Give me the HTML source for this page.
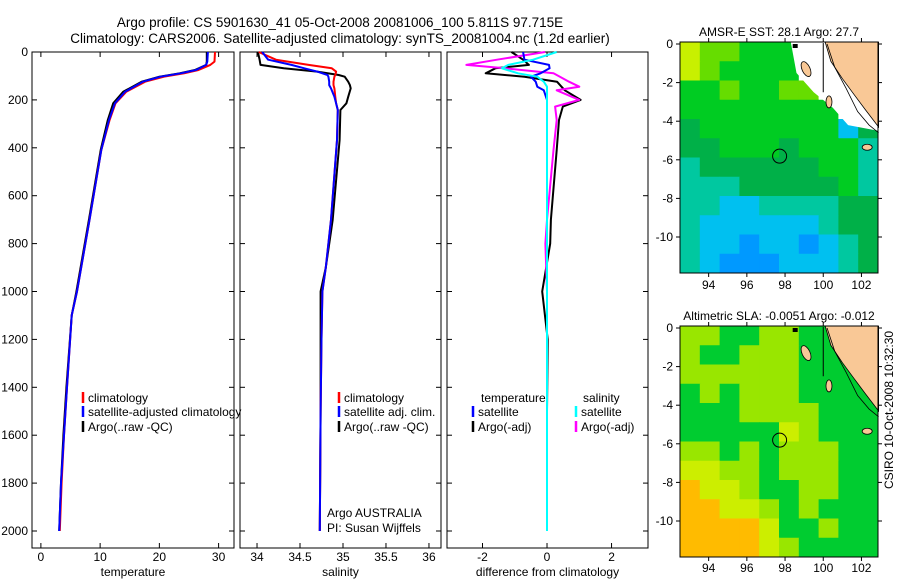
<!DOCTYPE html>
<html><head><meta charset="utf-8">
<style>
html,body{margin:0;padding:0;background:#fff;}
svg{display:block;font-family:"Liberation Sans",Arial,sans-serif;}
text{font-size:12px;fill:#000;}
</style></head>
<body>
<svg id="chart" width="900" height="580" viewBox="0 0 900 580" xmlns="http://www.w3.org/2000/svg">
<text x="340" y="27" text-anchor="middle" style="font-size:13.5px">Argo profile: CS 5901630_41 05-Oct-2008 20081006_100 5.811S 97.715E</text>
<text x="340" y="43" text-anchor="middle" style="font-size:13.5px">Climatology: CARS2006. Satellite-adjusted climatology: synTS_20081004.nc (1.2d earlier)</text>
<g id="plots"></g>
<text transform="translate(893,410) rotate(-90)" text-anchor="middle">CSIRO 10-Oct-2008 10:32:30</text>
</svg>
<script>
// ---- profile data ----
const depthT = [0, 40, 54, 75, 89, 103, 124, 166, 214, 284, 409, 701, 1000, 1100, 1400, 1600, 1800, 2000];
const tempClim = [29.4, 29.3, 28.6, 26.6, 24.2, 20.8, 17.6, 14.4, 12.6, 11.6, 10.2, 8.2, 6.1, 5.2, 4.4, 3.9, 3.5, 3.2];
const tempSat  = [28.2, 28.1, 27.9, 26.2, 23.6, 20.2, 17.2, 14.2, 12.5, 11.5, 10.2, 8.2, 6.1, 5.2, 4.4, 3.9, 3.4, 3.1];
const tempArgo = [28.0, 28.0, 27.9, 26.0, 23.4, 20.0, 17.0, 13.9, 12.2, 11.3, 10.1, 8.1, 6.0, 5.2, 4.3, 3.8, 3.4, 3.1];
const depthS = [0, 32, 54, 68, 82, 96, 103, 124, 138, 152, 187, 214, 242, 368, 700, 900, 1000, 1200, 1500, 2000];
const salClim = [34.02, 34.22, 34.60, 34.87, 34.92, 34.91, 34.90, 34.89, 34.89, 34.90, 34.91, 34.92, 34.94, 34.93, 34.86, 34.80, 34.76, 34.75, 34.74, 34.73];
const salSat  = [34.06, 34.13, 34.40, 34.55, 34.70, 34.82, 34.83, 34.84, 34.84, 34.86, 34.90, 34.92, 34.94, 34.93, 34.86, 34.80, 34.76, 34.75, 34.74, 34.73];
const salArgo = [34.01, 34.03, 34.04, 34.31, 34.70, 34.95, 35.02, 35.06, 35.08, 35.09, 35.06, 35.04, 34.97, 34.96, 34.88, 34.80, 34.74, 34.74, 34.74, 34.73];
const depthD = [0, 32, 54, 68, 89, 103, 124, 145, 160, 200, 228, 284, 409, 700, 800, 1000, 1200, 1500, 2000];
const diffTSat  = [-0.74, -0.70, 0.06, 0.08, -0.20, -0.50, -0.35, -0.30, -0.10, 0.00, 0.00, 0.00, 0.00, 0.00, 0.00, 0.00, 0.00, 0.00, 0.00];
const diffTArgo = [-1.10, -0.74, -0.56, -1.60, -1.90, -0.70, 0.31, 0.45, 0.55, 1.04, 0.49, 0.37, 0.30, 0.12, 0.10, -0.15, 0.02, 0.0, 0.0];
const diffSSat  = [0.30, -0.43, -1.20, -1.40, -0.90, -0.30, -0.10, 0.00, 0.00, 0.00, 0.00, 0.00, 0.00, 0.00, 0.00, 0.00, 0.00, 0.00, 0.00];
const diffSArgo = [-0.06, -1.55, -2.50, -1.30, 0.20, 0.40, 0.68, 1.00, 0.30, 1.00, 0.25, 0.30, 0.20, 0.00, -0.05, 0.00, 0.00, 0.00, 0.00];
const depthTicks = [0, 200, 400, 600, 800, 1000, 1200, 1400, 1600, 1800, 2000];
const tempTicks = [0, 10, 20, 30];
const salTicks = [34, 34.5, 35, 35.5, 36];
const salTickLabels = ["34", "34.5", "35", "35.5", "36"];
const diffTicks = [-2, 0, 2];
// ---- map data ----
const mapLatTicks = [0, -2, -4, -6, -8, -10];
const mapLonTicks = [94, 96, 98, 100, 102];
const sstGrid = ["YLLGGGWWPP","YLGGGGWWPP","GGLGGLLWWP","GGGGGGGGWP","DGGGGGGGCD","DDGGGDGGGT","TDDDDDDGGT","TTTDDDDDGT","TTCCTTTTDD","TCCCCCCTDD","TCCBCCBCTD","TCBBBCCCTD"];
const slaGrid = ["LLDDLLDDPP","LDDLLLDDDP","LLLLLLDDDP","DLDLLLDDDD","DDDLLLLDDD","DDDDDYLDDD","LLDLDLLLDD","YYLLDLLLDD","OYYLDDLLDD","OOYYLDLDDD","OOOOYDDLDD","OOOOYLDDDD"];

const NS = "http://www.w3.org/2000/svg";
const root = document.getElementById('plots');
function mk(tag, attrs, parent) {
  const e = document.createElementNS(NS, tag);
  for (const k in attrs) e.setAttribute(k, attrs[k]);
  (parent || root).appendChild(e);
  return e;
}
function txt(x, y, s, anchor, parent) {
  const t = mk('text', {x: x, y: y, 'text-anchor': anchor || 'middle'}, parent);
  t.textContent = s;
  return t;
}
const PT = 52, PB = 548;
const yD = d => 52 + d * 0.2395;

function panel(name, x0, x1, xmin, xmax, ticks, tickLabels, xtitle, showY) {
  const g = mk('g', {});
  
  
  const sx = v => x0 + (v - xmin) / (xmax - xmin) * (x1 - x0);
  const frame = mk('rect', {x: x0, y: PT, width: x1 - x0, height: PB - PT, fill: 'none', stroke: '#000', 'stroke-width': 1}, g);
  
  
  ticks.forEach((v, i) => {
    const x = sx(v);
    mk('line', {x1: x, x2: x, y1: PT, y2: PT + 5, stroke: '#000'}, g);
    mk('line', {x1: x, x2: x, y1: PB, y2: PB - 5, stroke: '#000'}, g);
    const t = txt(x, 561, tickLabels[i], 'middle', g);
    
    
  });
  depthTicks.forEach(d => {
    const y = yD(d);
    mk('line', {x1: x0, x2: x0 + 5, y1: y, y2: y, stroke: '#000'}, g);
    mk('line', {x1: x1, x2: x1 - 5, y1: y, y2: y, stroke: '#000'}, g);
    if (showY) {
      const t = txt(28, y + 4, String(d), 'end', g);
      
      
    }
  });
  const tt = txt((x0 + x1) / 2, 576, xtitle, 'middle', g);
  
  
  return {g: g, sx: sx};
}
function line(p, depths, vals, color, name) {
  const pts = depths.map((d, i) => p.sx(vals[i]).toFixed(1) + ',' + yD(d).toFixed(1)).join(' ');
  const l = mk('polyline', {points: pts, fill: 'none', stroke: color, 'stroke-width': 2, 'stroke-linejoin': 'round'}, p.g);
  
  
}
function legend(p, x, y, color, label, name) {
  mk('line', {x1: x, x2: x, y1: y - 10, y2: y + 1, stroke: color, 'stroke-width': 2.5}, p.g);
  const t = txt(x + 5, y, label, 'start', p.g);
  
  
}

const p1 = panel('temperature-panel', 32, 234, -1.5, 32.6, tempTicks, tempTicks.map(String), 'temperature', true);
line(p1, depthT, tempArgo, '#000', 'temp-argo-line');
line(p1, depthT, tempClim, '#f00', 'temp-climatology-line');
line(p1, depthT, tempSat, '#00f', 'temp-satellite-line');
legend(p1, 83, 402, '#f00', 'climatology', 'legend-climatology');
legend(p1, 83, 416, '#00f', 'satellite-adjusted climatology', 'legend-satellite');
legend(p1, 83, 431, '#000', 'Argo(..raw -QC)', 'legend-argo');

const p2 = panel('salinity-panel', 240, 441, 33.802, 36.14, salTicks, salTickLabels, 'salinity', false);
line(p2, depthS, salArgo, '#000', 'sal-argo-line');
line(p2, depthS, salClim, '#f00', 'sal-climatology-line');
line(p2, depthS, salSat, '#00f', 'sal-satellite-line');
legend(p2, 339, 402, '#f00', 'climatology', 'legend-climatology');
legend(p2, 339, 416, '#00f', 'satellite adj. clim.', 'legend-satellite');
legend(p2, 339, 431, '#000', 'Argo(..raw -QC)', 'legend-argo');
let a1 = txt(327, 517, 'Argo AUSTRALIA', 'start', p2.g);
 
let a2 = txt(327, 532, 'PI: Susan Wijffels', 'start', p2.g);
 

const p3 = panel('difference-panel', 447, 648, -3.1, 3.13, diffTicks, diffTicks.map(String), 'difference from climatology', false);
line(p3, depthD, diffTArgo, '#000', 'diff-temp-argo-line');
line(p3, depthD, diffSArgo, '#f0f', 'diff-sal-argo-line');
line(p3, depthD, diffTSat, '#00f', 'diff-temp-satellite-line');
line(p3, depthD, diffSSat, '#0ff', 'diff-sal-satellite-line');
let lt = txt(481, 402, 'temperature', 'start', p3.g);
 
let ls = txt(583, 402, 'salinity', 'start', p3.g);
 
legend(p3, 473, 416, '#00f', 'satellite', 'legend-temp-satellite');
legend(p3, 473, 431, '#000', 'Argo(-adj)', 'legend-temp-argo');
legend(p3, 576, 416, '#0ff', 'satellite', 'legend-sal-satellite');
legend(p3, 576, 431, '#f0f', 'Argo(-adj)', 'legend-sal-argo');

// ---- maps ----
const sstColors = {Y:'#c8f000', L:'#66dd00', G:'#00cc22', D:'#00b048', T:'#00c8a0', C:'#00c0f0', B:'#0099ff', W:'#ffffff', P:'#f9c896'};
const slaColors = {Y:'#ccee00', L:'#99e600', G:'#33dd00', D:'#00cc30', O:'#ffbb00', P:'#f9c896'};
function map(name, top, grid, colors, title, labelY) {
  const x0 = 680, x1 = 878, y1 = top + 231;
  const g = mk('g', {});
  
  
  const X = lon => x0 + (lon - 92.5) * 19.1;
  const Y = lat => top + 2 - lat * 19.3;
  const cw = (x1 - x0) / 10, ch = (y1 - top) / 12;
  grid.forEach((row, r) => {
    for (let c = 0; c < row.length; c++) {
      mk('rect', {x: x0 + c * cw, y: top + r * ch, width: cw + 0.5, height: ch + 0.5, fill: colors[row[c]]}, g);
    }
  });
  const poly = (pts, attrs) => mk('polygon', Object.assign({points: pts.map(p => X(p[0]).toFixed(1) + ',' + Y(p[1]).toFixed(1)).join(' ')}, attrs), g);
  if (colors.W) poly([[98.3,0.1],[98.6,-1.5],[99.5,-2.5],[100.5,-3.3],[101.3,-4.2],[102.9,-4.5],[102.9,0.1]], {fill: '#fff'});
  poly([[100.1,0.1],[100.4,-0.9],[101,-1.8],[101.6,-2.6],[102.2,-3.4],[102.9,-4.3],[102.9,0.1]], {fill: '#f9c896', stroke: '#000', 'stroke-width': 0.8});
  mk('polyline', {points: [[100.2,0],[100.6,-1.2],[101.2,-2.3],[101.8,-3.5],[102.4,-4.2],[102.9,-4.6]].map(p => X(p[0]) + ',' + Y(p[1])).join(' '), fill: 'none', stroke: '#000', 'stroke-width': 0.8}, g);
  mk('line', {x1: X(100), x2: X(100), y1: Y(0.05), y2: Y(-2.5), stroke: '#000', 'stroke-width': 1}, g);
  mk('ellipse', {cx: X(99.1), cy: Y(-1.3), rx: 4, ry: 8, fill: '#f9c896', stroke: '#000', 'stroke-width': 0.8, transform: 'rotate(-25 ' + X(99.1) + ' ' + Y(-1.3) + ')'}, g);
  mk('ellipse', {cx: X(100.3), cy: Y(-3), rx: 3, ry: 6, fill: '#f9c896', stroke: '#000', 'stroke-width': 0.8}, g);
  mk('ellipse', {cx: X(102.3), cy: Y(-5.35), rx: 5, ry: 3, fill: '#f9c896', stroke: '#000', 'stroke-width': 0.8}, g);
  mk('rect', {x: X(98.4), y: Y(0), width: 5, height: 4, fill: '#000'}, g);
  const circ = mk('circle', {cx: X(97.715), cy: Y(-5.811), r: 7, fill: 'none', stroke: '#000', 'stroke-width': 1}, g);
  
  
  mk('rect', {x: x0, y: top, width: x1 - x0, height: y1 - top, fill: 'none', stroke: '#000'}, g);
  mapLatTicks.forEach(v => {
    const y = Y(v);
    mk('line', {x1: x0 - 4, x2: x0, y1: y, y2: y, stroke: '#000'}, g);
    mk('line', {x1: x1, x2: x1 + 4, y1: y, y2: y, stroke: '#000'}, g);
    const t = txt(673, y + 4, String(v), 'end', g);
    
    
  });
  mapLonTicks.forEach(v => {
    const x = X(v);
    mk('line', {x1: x, x2: x, y1: y1, y2: y1 + 4, stroke: '#000'}, g);
    mk('line', {x1: x, x2: x, y1: top - 4, y2: top, stroke: '#000'}, g);
    const t = txt(x, labelY, String(v), 'middle', g);
    
    
  });
  const tt = txt(779, top - 6, title, 'middle', g);
  
  
}
map('sst-map', 42, sstGrid, sstColors, 'AMSR-E SST: 28.1 Argo: 27.7', 289);
map('sla-map', 326, slaGrid, slaColors, 'Altimetric SLA: -0.0051 Argo: -0.012', 572);
</script>
</body></html>
